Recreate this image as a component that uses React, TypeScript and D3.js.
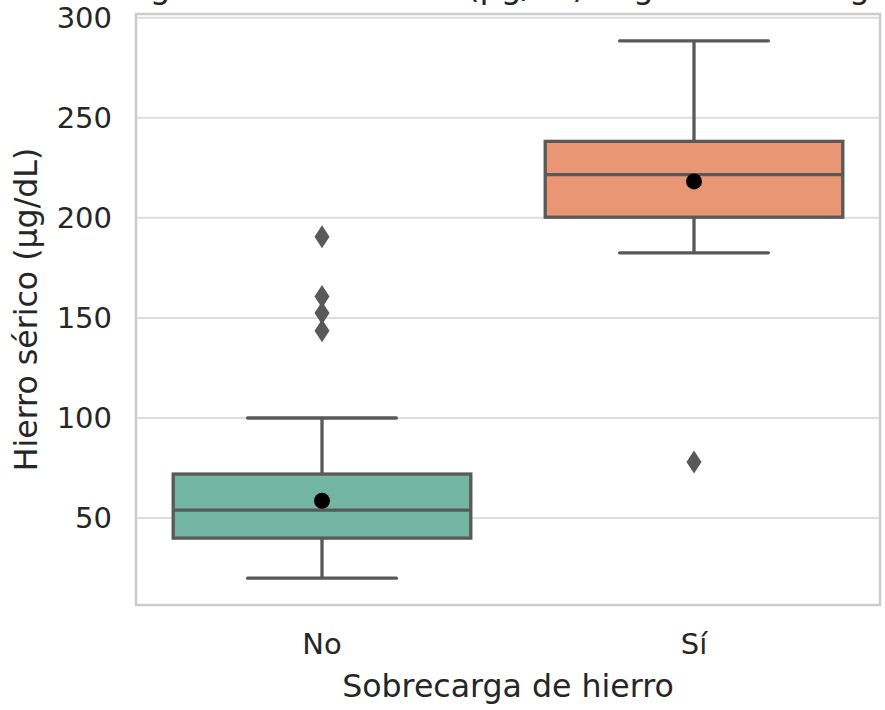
import React from 'react';
import * as d3 from 'd3';

// values
const categories = ['No', 'Sí'];
const q1 = [40, 200.3];
const median = [54, 221.6];
const q3 = [72, 238.2];
const whiskerLow = [20, 182.5];
const whiskerHigh = [100, 288.4];
const means = [58.6, 218.2];
const outliers = [
    [190.6, 160.7, 152.4, 143.6],
    [78]
];
const yTicks = [50, 100, 150, 200, 250, 300];
const fills = ['#72b6a1', '#e99675'];

const W = 885;
const H = 710;
const margin = { top: 14, right: 5, bottom: 105, left: 136 };
const lineColor = '#595959';
const textColor = '#262626';
const font = 'DejaVu Sans, sans-serif';

const App = () => {
    const allValues = [...whiskerLow, ...whiskerHigh, ...outliers.flat()];
    const lo = d3.min(allValues) as number;
    const hi = d3.max(allValues) as number;
    const pad = (hi - lo) * 0.05;

    const x = d3.scaleBand()
        .domain(categories)
        .range([margin.left, W - margin.right]);

    const y = d3.scaleLinear()
        .domain([lo - pad, hi + pad])
        .range([H - margin.bottom, margin.top]);

    const boxW = x.bandwidth() * 0.8;
    const capW = boxW / 2;

    // thin diamond like matplotlib's 'd' marker
    const diamond = (cx, cy) => {
        const p = d3.path();
        p.moveTo(cx, cy - 11.5);
        p.lineTo(cx + 7.5, cy);
        p.lineTo(cx, cy + 11.5);
        p.lineTo(cx - 7.5, cy);
        p.closePath();
        return p.toString();
    };

    const x0 = margin.left;
    const x1 = W - margin.right;
    const y0 = margin.top;
    const y1 = H - margin.bottom;
    const sw = 3.3;

    return (
        <svg width={W} height={H} style={{ position: 'absolute', left: 0, top: 0, background: '#fff' }}>
            {/* title, mostly above the visible area */}
            <text x={124} y={-2} fontFamily={font} fontSize={33} fill={textColor}>
                Figura: Hierro sérico (µg/dL) según sobrecarga de hierro
            </text>

            {/* grid */}
            {yTicks.map(t => (
                <line key={t} x1={x0} x2={x1} y1={y(t)} y2={y(t)} stroke="#dedede" strokeWidth={2} />
            ))}

            {/* boxes */}
            {categories.map((c, i) => {
                const cx = (x(c) as number) + x.bandwidth() / 2;
                return (
                    <g key={c}>
                        <line x1={cx} x2={cx} y1={y(q3[i])} y2={y(whiskerHigh[i])} stroke={lineColor} strokeWidth={sw} />
                        <line x1={cx} x2={cx} y1={y(q1[i])} y2={y(whiskerLow[i])} stroke={lineColor} strokeWidth={sw} />
                        <line x1={cx - capW / 2} x2={cx + capW / 2} y1={y(whiskerHigh[i])} y2={y(whiskerHigh[i])}
                            stroke={lineColor} strokeWidth={sw} strokeLinecap="round" />
                        <line x1={cx - capW / 2} x2={cx + capW / 2} y1={y(whiskerLow[i])} y2={y(whiskerLow[i])}
                            stroke={lineColor} strokeWidth={sw} strokeLinecap="round" />
                        <rect x={cx - boxW / 2} y={y(q3[i])} width={boxW} height={y(q1[i]) - y(q3[i])}
                            fill={fills[i]} stroke={lineColor} strokeWidth={sw} />
                        <line x1={cx - boxW / 2} x2={cx + boxW / 2} y1={y(median[i])} y2={y(median[i])}
                            stroke={lineColor} strokeWidth={sw} />
                        {outliers[i].map((v, j) => (
                            <path key={j} d={diamond(cx, y(v))} fill={lineColor} />
                        ))}
                        <circle cx={cx} cy={y(means[i])} r={8} fill="#000" />
                    </g>
                );
            })}

            {/* frame */}
            <rect x={x0} y={y0} width={x1 - x0} height={y1 - y0} fill="none" stroke="#cccccc" strokeWidth={2.5} />

            {/* y ticks */}
            {yTicks.map(t => (
                <text key={t} x={x0 - 24} y={y(t)} dy="0.35em" textAnchor="end"
                    fontFamily={font} fontSize={29} fill={textColor}>{t}</text>
            ))}

            {/* x ticks */}
            {categories.map(c => (
                <text key={c} x={(x(c) as number) + x.bandwidth() / 2} y={654} textAnchor="middle"
                    fontFamily={font} fontSize={29} fill={textColor}>{c}</text>
            ))}

            <text x={(x0 + x1) / 2} y={697} textAnchor="middle" fontFamily={font} fontSize={31.6} fill={textColor}>
                Sobrecarga de hierro
            </text>
            <text transform={`translate(37,${(y0 + y1) / 2}) rotate(-90)`} textAnchor="middle"
                fontFamily={font} fontSize={31.6} fill={textColor}>
                Hierro sérico (µg/dL)
            </text>
        </svg>
    );
};

export default App;
